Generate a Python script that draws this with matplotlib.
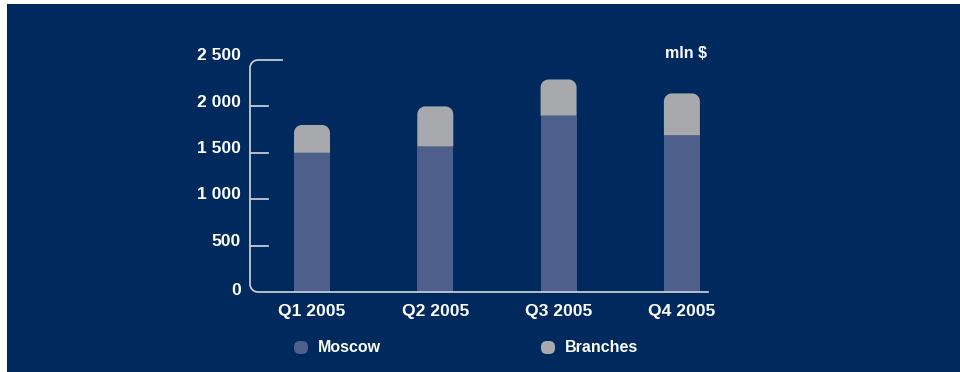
import numpy as np
import matplotlib.pyplot as plt
from matplotlib.path import Path
from matplotlib.patches import PathPatch, FancyBboxPatch
from matplotlib.transforms import ScaledTranslation

quarters = ['Q1 2005', 'Q2 2005', 'Q3 2005', 'Q4 2005']
moscow = [1500, 1570, 1900, 1690]
branches = [300, 430, 390, 450]
y_ticks = [0, 500, 1000, 1500, 2000, 2500]
y_tick_labels = ['0', '500', '1 000', '1 500', '2 000', '2 500']

navy = '#00295D'
moscow_color = '#4F5F8C'
branches_color = '#A8A9AD'
line_color = '#D3D7DF'

plt.rcParams['font.family'] = ['Liberation Sans', 'DejaVu Sans']

W, H = 960, 372
fig = plt.figure(figsize=(W / 100, H / 100), dpi=100)
fig.patch.set_facecolor('white')
fig.patches.append(plt.Rectangle((7 / W, 0), 1 - 7 / W, 1 - 4 / H, transform=fig.transFigure,
                                 facecolor=navy, edgecolor='none', zorder=-10))

ax_l, ax_r, ax_t, ax_b = 250, 708, 60, 292
ax = fig.add_axes([ax_l / W, 1 - ax_b / H, (ax_r - ax_l) / W, (ax_b - ax_t) / H])
ax.set_facecolor('none')
for s in ax.spines.values():
    s.set_visible(False)

x = np.arange(len(quarters))
step_px = 123.3
x0 = -(312 - ax_l) / step_px
ax.set_xlim(x0, x0 + (ax_r - ax_l) / step_px)
ax.set_ylim(0, 2500)

px_x = 1 / step_px            # data units per pixel along x
px_y = 2500 / (ax_b - ax_t)   # data units per pixel along y

bar_w = 36 * px_x
ax.bar(x, moscow, width=bar_w, color=moscow_color, zorder=2)


def rounded_top_bar(xc, bottom, height, width, r_px):
    rx, ry = r_px * px_x, r_px * px_y
    left, right, top = xc - width / 2, xc + width / 2, bottom + height
    t = np.linspace(np.pi, np.pi / 2, 12)
    tl = np.column_stack([left + rx + rx * np.cos(t), top - ry + ry * np.sin(t)])
    t = np.linspace(np.pi / 2, 0, 12)
    tr = np.column_stack([right - rx + rx * np.cos(t), top - ry + ry * np.sin(t)])
    verts = np.vstack([[left, bottom], tl, tr, [right, bottom], [left, bottom]])
    return PathPatch(Path(verts, closed=True), facecolor=branches_color, edgecolor='none', zorder=2)


for xi, m, b in zip(x, moscow, branches):
    ax.add_patch(rounded_top_bar(xi, m, b, bar_w, 8))

# axis frame: left line with rounded corners into the top cap and the baseline
r = 8
xl, xr = ax.get_xlim()
t = np.linspace(0.5 * np.pi, np.pi, 15)
top_arc = np.column_stack([xl + r * px_x + r * px_x * np.cos(t), 2500 - r * px_y + r * px_y * np.sin(t)])
t = np.linspace(np.pi, 1.5 * np.pi, 15)
bottom_arc = np.column_stack([xl + r * px_x + r * px_x * np.cos(t), r * px_y + r * px_y * np.sin(t)])
frame = np.vstack([[xl + 32 * px_x, 2500], top_arc, bottom_arc, [xr, 0]])
ax.plot(frame[:, 0], frame[:, 1], color=line_color, lw=1.2, clip_on=False, zorder=3)

for yv in y_ticks[1:-1]:
    ax.plot([xl, xl + 18 * px_x], [yv, yv], color=line_color, lw=1.2, zorder=3)

ax.set_yticks(y_ticks)
ax.set_yticklabels(y_tick_labels)
ax.set_xticks(x)
ax.set_xticklabels(quarters)
ax.tick_params(axis='y', length=0, pad=6.5, labelsize=12.6, labelcolor='white')
ax.tick_params(axis='x', length=0, pad=8.5, labelsize=12.6, labelcolor='white')
for lab in ax.get_xticklabels() + ax.get_yticklabels():
    lab.set_fontweight('bold')
# value labels sit slightly above their tick lines
lift = ScaledTranslation(0, 4.2 / 72, fig.dpi_scale_trans)
for lab in ax.get_yticklabels()[1:]:
    lab.set_transform(lab.get_transform() + lift)
ax.get_yticklabels()[0].set_transform(ax.get_yticklabels()[0].get_transform()
                                      + ScaledTranslation(0, 2.2 / 72, fig.dpi_scale_trans))

fig.text(707 / W, 1 - 54 / H, 'mln $', color='white', fontsize=11.5, fontweight='bold',
         ha='right', va='center')

# legend
for lx, tx, col, name in [(294, 318, moscow_color, 'Moscow'), (541, 565, branches_color, 'Branches')]:
    fig.patches.append(FancyBboxPatch((lx / W, 1 - 354 / H), 14 / W, 13 / H,
                                      boxstyle='round,pad=0,rounding_size=0.006',
                                      transform=fig.transFigure, facecolor=col, edgecolor='none',
                                      mutation_aspect=W / H))
    fig.text(tx / W, 1 - 347 / H, name, color='white', fontsize=11.5, fontweight='bold',
             ha='left', va='center')

fig.savefig('out.png', dpi=100, facecolor=fig.get_facecolor())
